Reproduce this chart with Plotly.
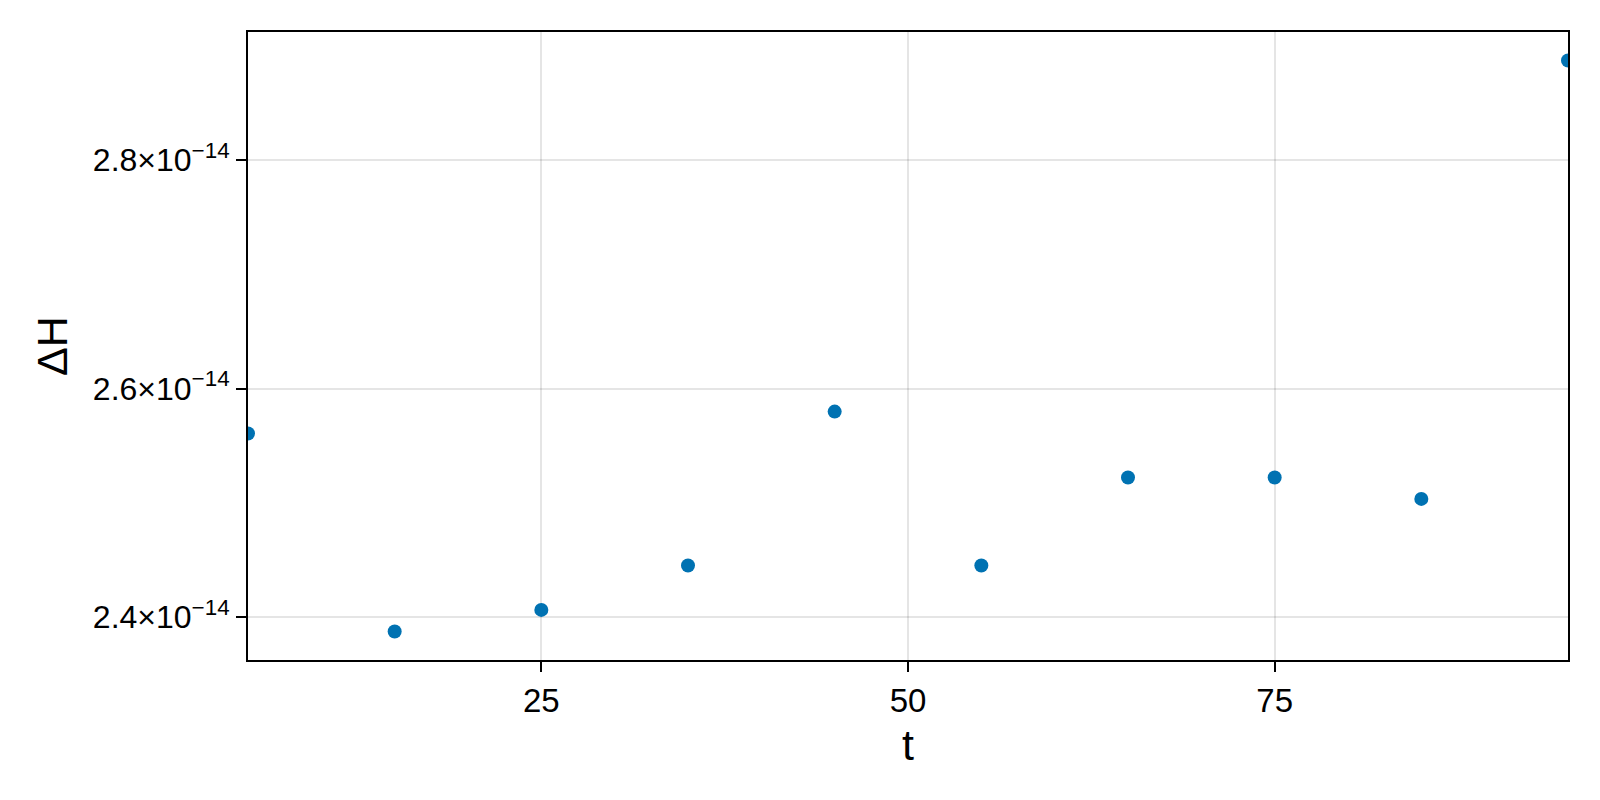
import plotly.graph_objects as go

# time samples and energy error
t = [5, 15, 25, 35, 45, 55, 65, 75, 85, 95]
dH = [2.5606e-14, 2.3872e-14, 2.4061e-14, 2.4450e-14, 2.5798e-14,
      2.4450e-14, 2.5220e-14, 2.5220e-14, 2.5033e-14, 2.8873e-14]

ytick_vals = [2.4e-14, 2.6e-14, 2.8e-14]
ytick_text = ["2.4×10<sup>−14</sup>", "2.6×10<sup>−14</sup>", "2.8×10<sup>−14</sup>"]
xtick_vals = [25, 50, 75]

pad = 0.05 * (max(dH) - min(dH))

fig = go.Figure()
fig.add_trace(go.Scatter(
    x=t, y=dH, mode="markers",
    marker=dict(color="#0072B2", size=14, line=dict(width=0)),
    showlegend=False,
))

axis_common = dict(
    showline=True, linecolor="black", linewidth=2, mirror=True,
    showgrid=True, gridcolor="rgba(0,0,0,0.1)", gridwidth=2,
    zeroline=False, ticks="outside", ticklen=10, tickwidth=2, tickcolor="black",
)
title_font = dict(family="Liberation Sans", size=43, color="black")

fig.update_xaxes(
    range=[min(t), max(t)], tickvals=xtick_vals,
    tickfont=dict(family="Liberation Sans", size=33, color="black"),
    title=dict(text="t", font=title_font, standoff=12),
    **axis_common,
)
fig.update_yaxes(
    range=[min(dH) - pad, max(dH) + pad], tickvals=ytick_vals, ticktext=ytick_text,
    tickfont=dict(family="Liberation Sans", size=32, color="black"),
    title=dict(text="ΔH", font=title_font, standoff=12),
    **axis_common,
)

# page body adds 8px offset, so margins are shifted to compensate
fig.update_layout(
    width=1600, height=800,
    margin=dict(l=240, r=40, t=24, b=148),
    plot_bgcolor="white", paper_bgcolor="white",
)

fig.write_html("out.html")
